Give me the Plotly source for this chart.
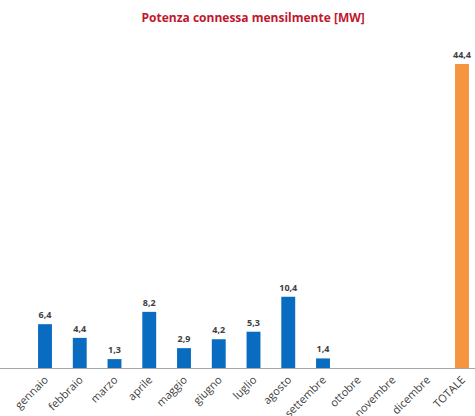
import plotly.graph_objects as go

categories = ["gennaio", "febbraio", "marzo", "aprile", "maggio", "giugno", "luglio",
              "agosto", "settembre", "ottobre", "novembre", "dicembre", "TOTALE"]
values = [6.4, 4.4, 1.3, 8.2, 2.9, 4.2, 5.3, 10.4, 1.4, None, None, None, 44.4]
labels = [("%.1f" % v).replace(".", ",") if v is not None else "" for v in values]
colors = ["#0a6cc0"] * 12 + ["#f7943f"]

fig = go.Figure(go.Bar(
    x=categories, y=values, text=labels, textposition="outside",
    texttemplate="<b>%{text}</b>",
    textfont=dict(family="Open Sans", size=9, color="#404040"),
    marker=dict(color=colors, line=dict(width=0)),
    width=0.4, cliponaxis=False, constraintext="none",
))

fig.update_layout(
    width=475, height=416,
    margin=dict(l=0, r=0, t=40, b=48, autoexpand=False),
    paper_bgcolor="white", plot_bgcolor="white",
    showlegend=False,
    title=dict(text="<b>Potenza connessa mensilmente [MW]</b>", x=0.533, xanchor="center",
               y=0.957, yanchor="middle",
               font=dict(family="Open Sans", size=12, color="#c0182e")),
    xaxis=dict(range=[-1.295, 12.374], tickangle=-45, showline=True, linecolor="#a6a6a6",
               linewidth=1, ticks="", showgrid=False, automargin=False,
               tickfont=dict(family="Open Sans", size=11, color="#404040")),
    yaxis=dict(range=[0, 47.9], visible=False, showgrid=False, zeroline=False,
               automargin=False),
)

fig.write_html("out.html", config={"displayModeBar": False},
               post_script="document.body.style.margin='0';document.body.style.overflow='hidden';")
